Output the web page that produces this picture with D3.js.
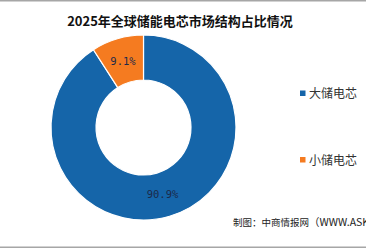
<!DOCTYPE html>
<html><head><meta charset="utf-8">
<script src="https://cdn.jsdelivr.net/npm/d3@7"></script>
<style>body{margin:0;background:#fff;}svg{display:block;}</style>
</head><body>
<svg id="c" width="366" height="248"></svg>
<script>
const categories = ["大储电芯", "小储电芯"];
const values = [90.9, 9.1];
const labels = ["90.9%", "9.1%"];
const colors = ["#1565a9", "#f57b20"];
const title = "2025年全球储能电芯市场结构占比情况";
const sourceParts = ["制图：中商情报网", "（WWW.ASKCI.COM）"];

const svg = d3.select("#c");
const W = 366, H = 248;
svg.append("rect").attr("x",0).attr("y",0).attr("width",W).attr("height",1.5).attr("fill","#a6a6a6");
svg.append("rect").attr("x",0).attr("y",246.5).attr("width",W).attr("height",1.5).attr("fill","#a6a6a6");

svg.append("text").attr("x",180).attr("y",26).attr("text-anchor","middle")
  .attr("font-family","'Noto Sans CJK SC', sans-serif").attr("font-weight","bold")
  .attr("font-size",13).attr("fill","#111").text(title);

const cx = 143.5, cy = 127.5, R = 92.5, r = 47.5;
const pie = d3.pie().sort(null).value(d => d)(values);
const arc = d3.arc().innerRadius(r).outerRadius(R);
const g = svg.append("g").attr("transform",`translate(${cx},${cy})`);
g.selectAll("path").data(pie).join("path")
  .attr("d",arc).attr("fill",(d,i)=>colors[i]).attr("stroke","#fff").attr("stroke-width",1.2);

const labelPos = [[162.5-cx,198-cy],[123-cx,64.5-cy]];
g.selectAll("text.lbl").data(pie).join("text").attr("class","lbl")
  .attr("x",(d,i)=>labelPos[i][0])
  .attr("y",(d,i)=>labelPos[i][1])
  .attr("text-anchor","middle").attr("font-family","'DejaVu Sans Mono', monospace")
  .attr("font-size",10.5).attr("fill","#1c2a4a").text((d,i)=>labels[i]);

const leg = svg.append("g");
const ly = [93.5, 160];
categories.forEach((c,i)=>{
  leg.append("rect").attr("x",300).attr("y",ly[i]-3).attr("width",5.5).attr("height",5.5).attr("fill",colors[i]);
  leg.append("text").attr("x",309).attr("y",ly[i]+4.5).attr("font-family","'Noto Sans CJK SC', sans-serif")
    .attr("font-size",12).attr("fill","#333").text(c);
});

const src = svg.append("text").attr("x",233).attr("y",226).attr("font-family","'Noto Sans CJK SC', sans-serif")
  .attr("fill","#222");
src.append("tspan").attr("font-size",9.5).text(sourceParts[0]);
src.append("tspan").attr("font-size",10.5).text(sourceParts[1]);
</script>
</body></html>
